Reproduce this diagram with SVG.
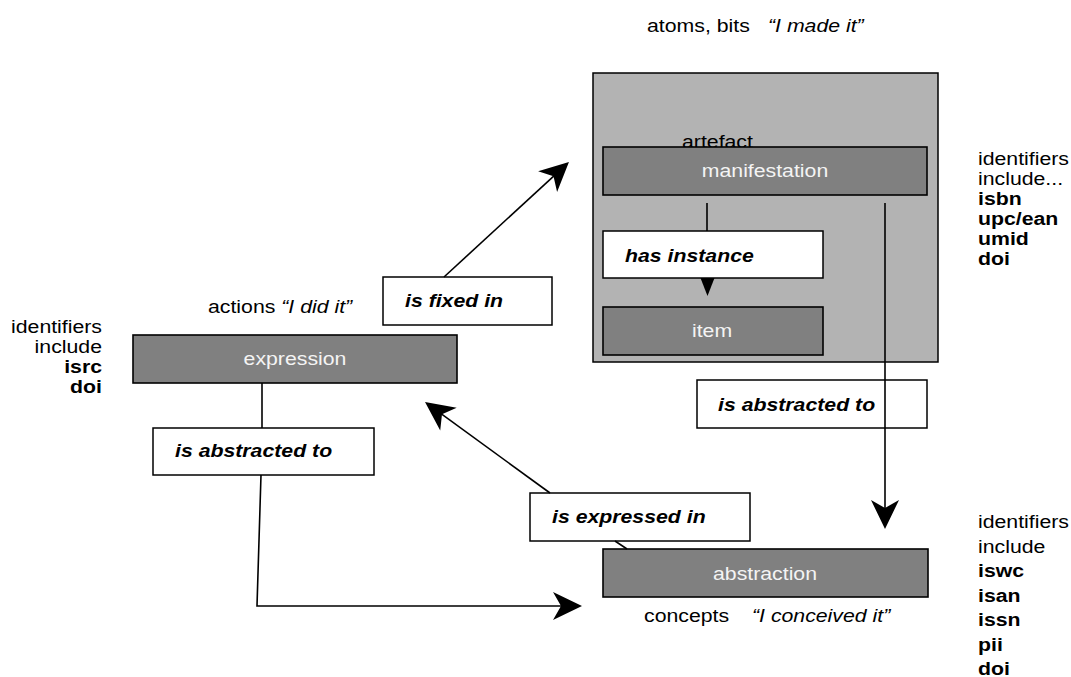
<svg xmlns="http://www.w3.org/2000/svg" width="1071" height="677" viewBox="0 0 1071 677">
  <style>
    text { font-family: "Liberation Sans", Arial, sans-serif; font-size: 18.5px; fill: #000; }
    .node { fill: #808080; stroke: #000; stroke-width: 1.6; }
    .node-text { fill: #f4f4f4; text-anchor: middle; }
    .label { fill: #fff; stroke: #000; stroke-width: 1.5; }
    .label-text { font-weight: bold; font-style: italic; }
    .group-box { fill: #b3b3b3; stroke: #000; stroke-width: 1.5; }
    .conn { fill: none; stroke: #000; stroke-width: 1.6; }
    .it { font-style: italic; }
    .b { font-weight: bold; }
    .r { text-anchor: end; }
  </style>
  <defs>
    <marker id="bigArrow" viewBox="-30 -15 31 30" refX="-10" refY="0" markerWidth="31" markerHeight="30" markerUnits="userSpaceOnUse" orient="auto">
      <path d="M0,0 L-29,-14 L-21,0 L-29,14 Z" fill="#000"/>
    </marker>
  </defs>

  <!-- captions -->
  <g id="captions">
    <text transform="matrix(1.15 0 0 1 647 32)">atoms, bits</text>
    <text class="it" transform="matrix(1.15 0 0 1 768 32)">“I made it”</text>
    <text transform="matrix(1.15 0 0 1 208 313)">actions <tspan class="it">“I did it”</tspan></text>
    <text transform="matrix(1.15 0 0 1 644 622)">concepts</text>
    <text class="it" transform="matrix(1.15 0 0 1 752 622)">“I conceived it”</text>
  </g>

  <!-- identifier lists -->
  <g id="ids-manifestation">
    <text transform="matrix(1.15 0 0 1 978 165)">identifiers</text>
    <text transform="matrix(1.15 0 0 1 978 185)">include...</text>
    <text class="b" transform="matrix(1.15 0 0 1 978 205)">isbn</text>
    <text class="b" transform="matrix(1.15 0 0 1 978 225)">upc/ean</text>
    <text class="b" transform="matrix(1.15 0 0 1 978 245)">umid</text>
    <text class="b" transform="matrix(1.15 0 0 1 978 265)">doi</text>
  </g>
  <g id="ids-expression">
    <text class="r" transform="matrix(1.15 0 0 1 102 333)">identifiers</text>
    <text class="r" transform="matrix(1.15 0 0 1 102 353)">include</text>
    <text class="r b" transform="matrix(1.15 0 0 1 102 373)">isrc</text>
    <text class="r b" transform="matrix(1.15 0 0 1 102 393)">doi</text>
  </g>
  <g id="ids-abstraction">
    <text transform="matrix(1.15 0 0 1 978 528)">identifiers</text>
    <text transform="matrix(1.15 0 0 1 978 552.5)">include</text>
    <text class="b" transform="matrix(1.15 0 0 1 978 577)">iswc</text>
    <text class="b" transform="matrix(1.15 0 0 1 978 601.5)">isan</text>
    <text class="b" transform="matrix(1.15 0 0 1 978 626)">issn</text>
    <text class="b" transform="matrix(1.15 0 0 1 978 650.5)">pii</text>
    <text class="b" transform="matrix(1.15 0 0 1 978 675)">doi</text>
  </g>

  <!-- artefact container -->
  <g id="artefact">
    <rect class="group-box" x="593" y="73" width="345" height="289"/>
    <text transform="matrix(1.15 0 0 1 682 148)">artefact</text>
  </g>

  <g id="manifestation">
    <rect class="node" x="603" y="147" width="324" height="48"/>
    <text class="node-text" transform="matrix(1.15 0 0 1 765 177)">manifestation</text>
  </g>

  <g id="item">
    <rect class="node" x="603" y="307" width="220" height="48"/>
    <text class="node-text" transform="matrix(1.15 0 0 1 712 337)">item</text>
  </g>

  <g id="expression">
    <rect class="node" x="133" y="335" width="324" height="48"/>
    <text class="node-text" transform="matrix(1.15 0 0 1 295 365)">expression</text>
  </g>

  <g id="abstraction">
    <rect class="node" x="603" y="549" width="325" height="48"/>
    <text class="node-text" transform="matrix(1.15 0 0 1 765 580)">abstraction</text>
  </g>

  <!-- relationship labels -->
  <g id="label-has-instance">
    <rect class="label" x="603" y="231" width="220" height="47"/>
    <text class="label-text" transform="matrix(1.15 0 0 1 625 262)">has instance</text>
  </g>
  <g id="label-is-fixed-in">
    <rect class="label" x="383" y="277" width="169" height="48"/>
    <text class="label-text" transform="matrix(1.15 0 0 1 405 307)">is fixed in</text>
  </g>
  <g id="label-abstracted-left">
    <rect class="label" x="153" y="428" width="221" height="47"/>
    <text class="label-text" transform="matrix(1.15 0 0 1 175 457)">is abstracted to</text>
  </g>
  <g id="label-abstracted-right">
    <rect class="label" x="697" y="380" width="230" height="48"/>
    <text class="label-text" transform="matrix(1.15 0 0 1 718 411)">is abstracted to</text>
  </g>
  <g id="label-is-expressed-in">
    <rect class="label" x="530" y="493" width="220" height="48"/>
    <text class="label-text" transform="matrix(1.15 0 0 1 552 523)">is expressed in</text>
  </g>

  <!-- connectors -->
  <g id="connectors">
    <!-- manifestation -> item -->
    <line class="conn" x1="707" y1="203" x2="707" y2="231"/>
    <path d="M700.5,278 L714.5,278 L707.5,296 Z" fill="#000"/>
    <!-- expression -> manifestation -->
    <line class="conn" x1="444" y1="277" x2="561.6" y2="168.8" marker-end="url(#bigArrow)"/>
    <!-- manifestation -> abstraction -->
    <line class="conn" x1="885" y1="203" x2="885" y2="519" marker-end="url(#bigArrow)"/>
    <!-- abstraction -> expression -->
    <line class="conn" x1="550" y1="493" x2="433.1" y2="407.9" marker-end="url(#bigArrow)"/>
    <line class="conn" x1="615" y1="541" x2="627" y2="549"/>
    <!-- expression -> abstraction -->
    <line class="conn" x1="262" y1="383" x2="262" y2="428"/>
    <polyline class="conn" points="261,475 257,606 572,606" marker-end="url(#bigArrow)"/>
  </g>
</svg>
